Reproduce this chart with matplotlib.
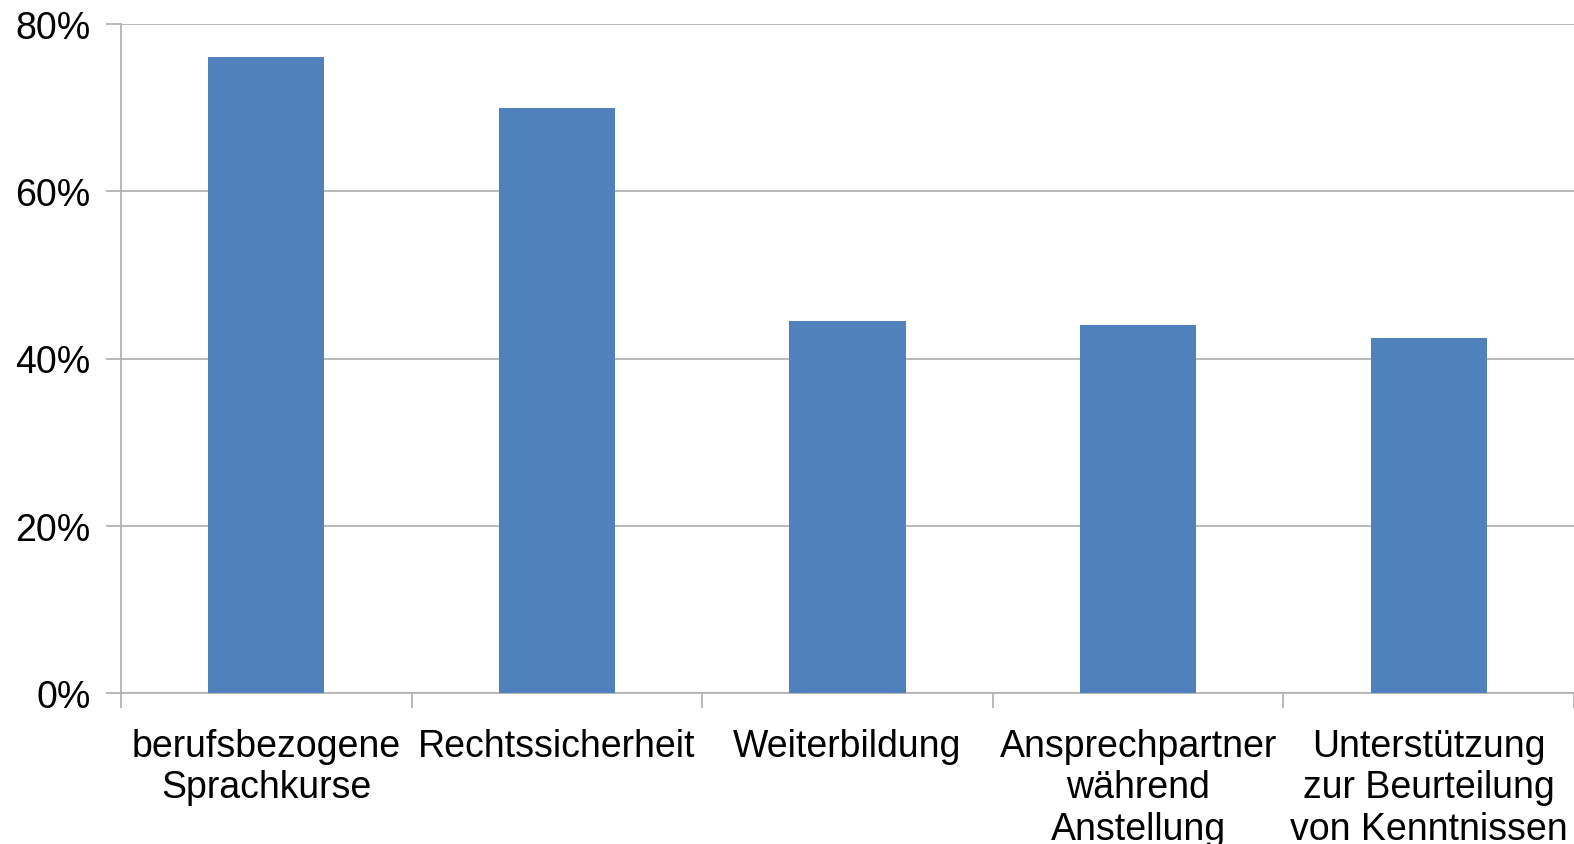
import matplotlib.pyplot as plt
from matplotlib.ticker import FuncFormatter, FixedLocator

plt.rcParams['font.family'] = ['Liberation Sans', 'DejaVu Sans']

categories = [
    "berufsbezogene\nSprachkurse",
    "Rechtssicherheit",
    "Weiterbildung",
    "Ansprechpartner\nwährend\nAnstellung",
    "Unterstützung\nzur Beurteilung\nvon Kenntnissen",
]
shares = [76, 70, 44.5, 44, 42.5]

bar_color = '#4F81BD'
line_color = '#B3B3B3'

fig = plt.figure(figsize=(15.74, 8.45), dpi=100)
ax = fig.add_axes([121 / 1574, (845 - 694) / 845, 1 - 121 / 1574, (694 - 25) / 845])

x = list(range(len(categories)))
ax.bar(x, shares, width=0.4, color=bar_color, zorder=3)

ax.set_xlim(-0.5, len(categories) - 0.5)
ax.set_ylim(0, 80)
ax.set_yticks([0, 20, 40, 60, 80])
ax.yaxis.set_major_formatter(FuncFormatter(lambda v, _: f"{v:.0f}%"))
ax.grid(axis='y', color=line_color, linewidth=1.3, zorder=0)

# category labels centred under the bars, ticks on the category boundaries
ax.set_xticks(x)
ax.set_xticklabels(categories, fontsize=27, linespacing=1.2)
ax.tick_params(axis='x', which='major', length=0, pad=25)
ax.xaxis.set_minor_locator(FixedLocator([i - 0.5 for i in range(len(categories) + 1)]))
ax.tick_params(axis='x', which='minor', length=11, width=1.3, color=line_color)
ax.tick_params(axis='y', length=11, width=1.3, color=line_color, labelsize=27, pad=11)

for side in ['top', 'right']:
    ax.spines[side].set_visible(False)
for side in ['left', 'bottom']:
    ax.spines[side].set_color(line_color)
    ax.spines[side].set_linewidth(1.3)

fig.savefig('out.png', dpi=100)
